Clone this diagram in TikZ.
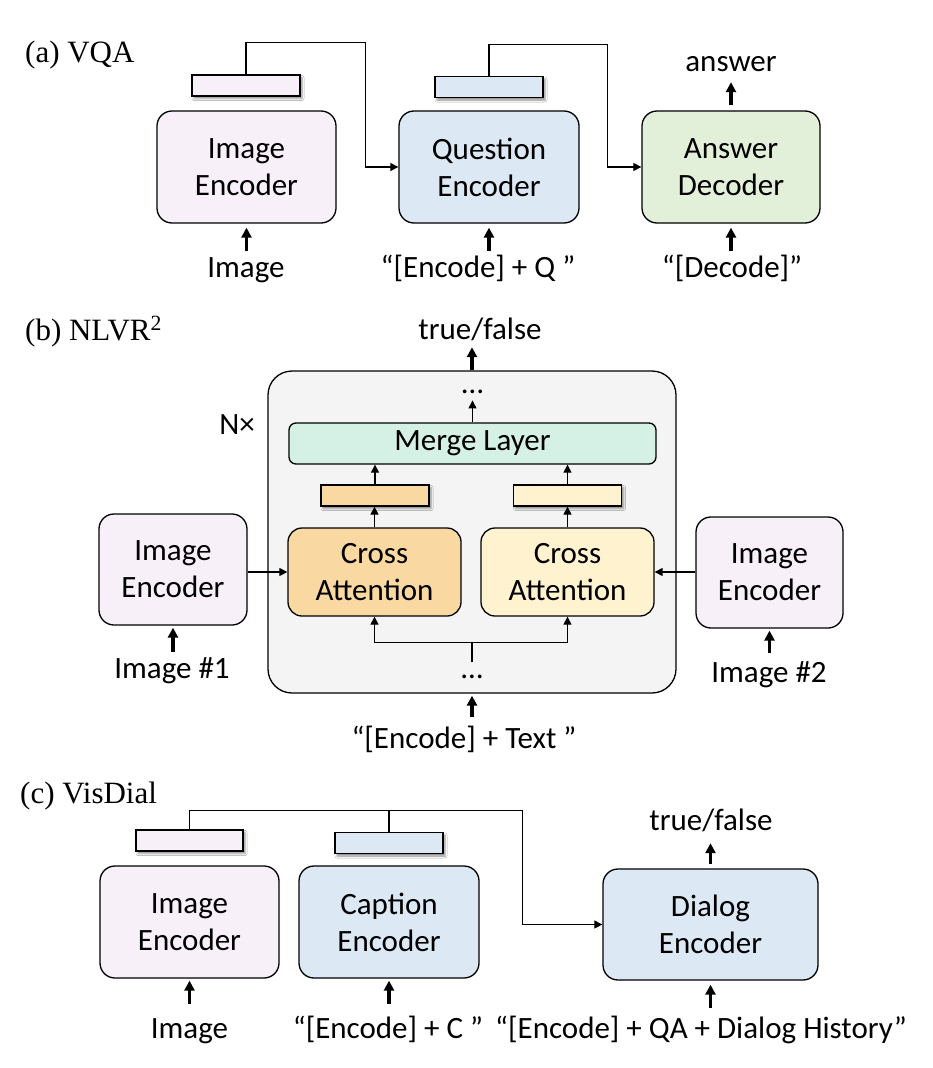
\documentclass[tikz,border=0pt]{standalone}
\usepackage{fontspec}
\setmainfont{Carlito}
\newfontfamily\timesfont{Liberation Serif}
\usetikzlibrary{arrows.meta,shadows.blur}

\definecolor{imgfill}{HTML}{F7F0F9}
\definecolor{qfill}{HTML}{DCE8F4}
\definecolor{ansfill}{HTML}{E2EFD9}
\definecolor{corefill}{HTML}{F4F4F4}
\definecolor{mergefill}{HTML}{D5F1E6}
\definecolor{orfill}{HTML}{FAD8A2}
\definecolor{yelfill}{HTML}{FFF2CE}

\newcommand{\boxfont}{\fontsize{31}{37}\selectfont}
\newcommand{\secfont}{\timesfont\fontsize{31}{37}\selectfont}

\begin{document}
\begin{tikzpicture}[x=1pt, y=-1pt,
    enc/.style={draw, line width=1.3pt, rounded corners=15pt, align=center, font=\boxfont, inner sep=0pt},
    feat/.style={draw, line width=1.3pt, minimum width=108pt, minimum height=21pt, inner sep=0pt,
        blur shadow={shadow xshift=2pt, shadow yshift=-2.5pt, shadow blur radius=2pt, shadow opacity=45}},
    lbl/.style={font=\boxfont, inner sep=0pt, text height=21pt, text depth=7pt},
    sec/.style={font=\secfont, inner sep=0pt, anchor=base west},
    fat/.style={line width=3.2pt, -{Triangle[length=10pt,width=10pt]}, shorten <=5pt, shorten >=4pt},
    conn/.style={line width=1.2pt, -{Triangle[length=8pt,width=8pt]}},
    wire/.style={line width=1.2pt}]

\path[use as bounding box, fill=white] (0,0) rectangle (932,1068);

% (a) VQA
\node[sec] (secA) at (25,62) {(a) VQA};
\node[enc, fill=imgfill, minimum width=179pt, minimum height=112pt] (imgA) at (246.5,167) {Image\\Encoder};
\node[enc, fill=qfill, minimum width=180pt, minimum height=112pt] (qA) at (489,167) {Question\\Encoder};
\node[enc, fill=ansfill, minimum width=178pt, minimum height=112pt] (ansA) at (731,167) {Answer\\Decoder};
\node[feat, fill=imgfill] (barA1) at (246,85.5) {};
\node[feat, fill=qfill] (barA2) at (489,87) {};

% inputs and output of (a)
\node[lbl] (inA1) at (246,270) {Image};
\node[lbl] (inA2) at (478,270) {“[Encode] + Q ”};
\node[lbl] (inA3) at (732,270) {“[Decode]”};
\node[lbl] (outA) at (731,64) {answer};
\draw[fat] (imgA.south |- inA1.north) -- (imgA.south);
\draw[fat] (qA.south |- inA2.north) -- (qA.south);
\draw[fat] (ansA.south |- inA3.north) -- (ansA.south);
\draw[fat] (ansA.north) -- (ansA.north |- outA.south);

% features passed on
\draw[conn] (barA1.north) -- ++(0,-32) -| ([xshift=-33pt]qA.west) -- (qA.west);
\draw[conn] (barA2.north) -- ++(0,-31) -| ([xshift=-34pt]ansA.west) -- (ansA.west);

% (b) NLVR2
\node[sec] (secB) at (25,340) {(b) NLVR\textsuperscript{2}};
\node[draw, line width=1.3pt, rounded corners=24pt, fill=corefill, minimum width=408pt, minimum height=322pt] (core) at (472,532) {};
\node[lbl] (outB) at (480,332) {true/false};
\draw[fat, shorten <=0pt, shorten >=1pt] (core.north) -- (core.north |- outB.south);
\node[lbl] (times) at (237,427) {N×};

% inside the repeated block
\node[inner sep=0pt, anchor=base, font=\boxfont] (dotsT) at (472.5,393) {…};
\node[enc, rounded corners=7pt, fill=mergefill, minimum width=367pt, minimum height=41pt] (merge) at (472.5,443.5) {Merge Layer};
\node[feat, fill=orfill] (barB1) at (375,495.5) {};
\node[feat, fill=yelfill] (barB2) at (567.5,495.5) {};
\node[enc, rounded corners=14pt, fill=orfill, minimum width=173pt, minimum height=88pt] (caL) at (374.5,572) {Cross\\Attention};
\node[enc, rounded corners=14pt, fill=yelfill, minimum width=173pt, minimum height=88pt] (caR) at (567.5,572) {Cross\\Attention};
\node[inner sep=0pt, anchor=base, font=\boxfont] (dotsB) at (472,678) {…};

\draw[conn, shorten >=7pt] (merge.north) -- (merge.north |- dotsT.south);
\draw[conn] (caL.north) -- (caL.north |- barB1.south);
\draw[conn] (barB1.north) -- (barB1.north |- merge.south);
\draw[conn] (caR.north) -- (caR.north |- barB2.south);
\draw[conn] (barB2.north) -- (barB2.north |- merge.south);
\draw[wire] ([yshift=16pt]dotsB.south) -- ++(0,-20) coordinate (split);
\draw[conn] (split) -| (caL.south);
\draw[conn] (split) -| (caR.south);

% image encoders of (b)
\node[enc, fill=imgfill, minimum width=148pt, minimum height=111pt] (imgB1) at (173,569.5) {Image\\Encoder};
\node[enc, fill=imgfill, minimum width=147pt, minimum height=111pt] (imgB2) at (769.5,572.5) {Image\\Encoder};
\draw[conn] (caL.west -| imgB1.east) -- (caL.west);
\draw[conn] (caR.east -| imgB2.west) -- (caR.east);
\node[lbl] (inB1) at (172,671) {Image \#1};
\node[lbl] (inB2) at (769,675) {Image \#2};
\node[lbl] (inB) at (464,741) {“[Encode] + Text ”};
\draw[fat, shorten >=2pt] (imgB1.south |- inB1.north) -- (imgB1.south);
\draw[fat, shorten <=8pt, shorten >=2pt] (imgB2.south |- inB2.north) -- (imgB2.south);
\draw[fat, shorten <=10pt, shorten >=2pt] (core.south |- inB.north) -- (core.south);

% (c) VisDial
\node[sec] (secC) at (20,803) {(c) VisDial};
\node[enc, fill=imgfill, minimum width=179pt, minimum height=112pt] (imgC) at (189.5,922) {Image\\Encoder};
\node[enc, fill=qfill, minimum width=180pt, minimum height=112pt] (capC) at (389,922) {Caption\\Encoder};
\node[enc, fill=qfill, minimum width=215pt, minimum height=111pt] (dlgC) at (710.5,924.5) {Dialog\\Encoder};
\node[feat, fill=imgfill, minimum width=107pt] (barC1) at (189.5,840.5) {};
\node[feat, fill=qfill] (barC2) at (389,843) {};
\draw[conn] (barC1.north) -- ++(0,-19) coordinate (topC) -| ([xshift=-80pt]dlgC.west) -- (dlgC.west);
\draw[wire] (barC2.north) -- (barC2.north |- topC);

% inputs and output of (c)
\node[lbl] (outC) at (711,823) {true/false};
\draw[fat, shorten <=4pt, shorten >=6pt] (dlgC.north) -- (dlgC.north |- outC.south);
\node[lbl] (inC1) at (189.5,1031) {Image};
\node[lbl] (inC2) at (388,1031) {“[Encode] + C ”};
\node[lbl] (inC3) at (701,1031) {“[Encode] + QA + Dialog History”};
\draw[fat, shorten <=13pt, shorten >=2pt] (imgC.south |- inC1.north) -- (imgC.south);
\draw[fat, shorten <=13pt, shorten >=2pt] (capC.south |- inC2.north) -- (capC.south);
\draw[fat, shorten <=9pt, shorten >=4pt] (dlgC.south |- inC3.north) -- (dlgC.south);

\end{tikzpicture}
\end{document}
